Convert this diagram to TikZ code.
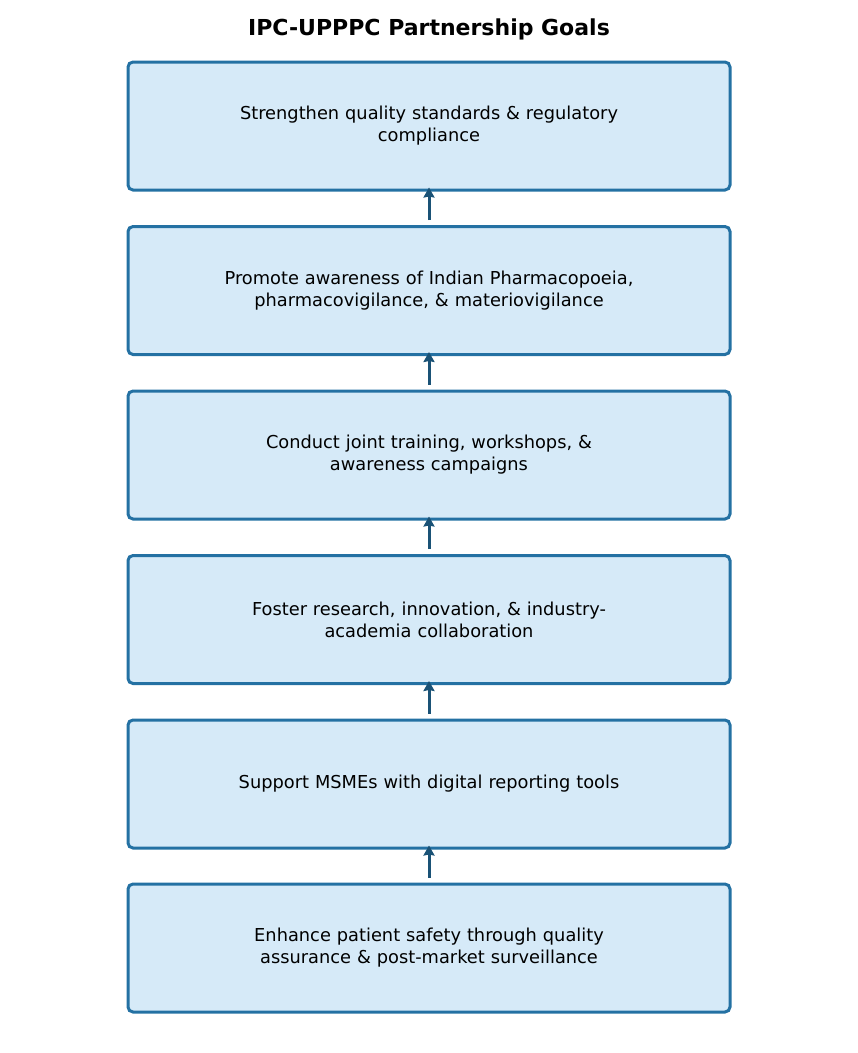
\documentclass[tikz,border=0pt]{standalone}
\usepackage{fontspec}
\setmainfont{DejaVu Sans}
\usetikzlibrary{arrows.meta}
\definecolor{boxfill}{HTML}{D6EAF8}
\definecolor{boxline}{HTML}{2471A3}
\definecolor{arrowc}{HTML}{1A5276}
\begin{document}
\begin{tikzpicture}[x=1pt,y=-1pt,
  goal/.style={draw=boxline, fill=boxfill, line width=3pt, rounded corners=5pt,
    minimum width=602pt, minimum height=128pt, align=center, text width=560pt,
    font=\fontsize{17.8}{22}\selectfont, inner sep=0pt},
  link/.style={draw=arrowc, line width=3pt, -{Stealth[length=10pt,width=11pt,inset=1pt]}}]
\useasboundingbox (0,0) rectangle (858,1053);
\node[font=\bfseries\fontsize{22}{26}\selectfont] (title) at (429,29.5) {IPC-UPPPC Partnership Goals};
\node[goal] (g1) at (429,126) {Strengthen quality standards \& regulatory\\compliance};
\node[goal] (g2) at (429,290.5) {Promote awareness of Indian Pharmacopoeia,\\pharmacovigilance, \& materiovigilance};
\node[goal] (g3) at (429,455) {Conduct joint training, workshops, \&\\awareness campaigns};
\node[goal] (g4) at (429,619.5) {Foster research, innovation, \& industry-\\academia collaboration};
\node[goal] (g5) at (429,784) {Support MSMEs with digital reporting tools};
\node[goal] (g6) at (429,948) {Enhance patient safety through quality\\assurance \& post-market surveillance};
\foreach \a/\b in {g2/g1,g3/g2,g4/g3,g5/g4,g6/g5}{
  \draw[link] ([yshift=5pt]\a.north) -- ([yshift=4pt]\b.south);
}
\end{tikzpicture}
\end{document}
